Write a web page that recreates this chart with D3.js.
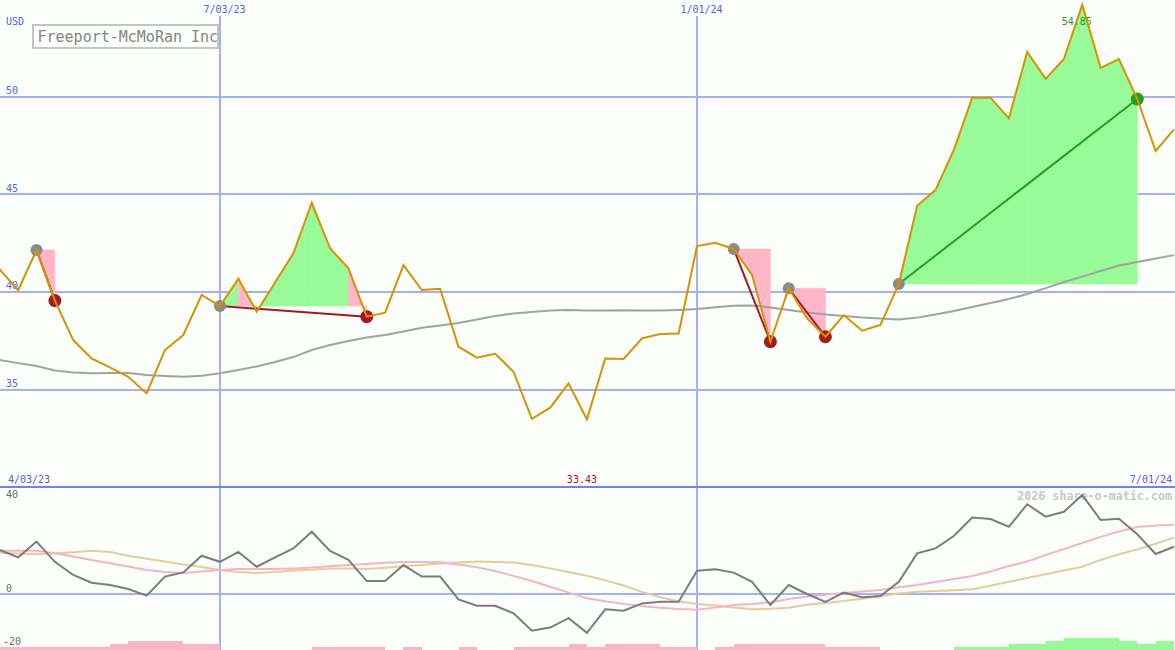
<!DOCTYPE html>
<html><head><meta charset="utf-8">
<script src="https://cdn.jsdelivr.net/npm/d3@7"></script>
<style>html,body{margin:0;padding:0;background:#fbfefb;overflow:hidden}svg{display:block}</style>
</head><body>
<svg id="c" width="1175" height="650"></svg>
<script>
// ---------- data ----------
const title = "Freeport-McMoRan Inc";
const currency = "USD";
const credit = "2026 share-o-matic.com";
const firstWeek = "2023-04-03", lastWeek = "2024-07-01";
const dateTicks = ["2023-07-03", "2024-01-01"];
const dateTickLabels = ["7/03/23", "1/01/24"];
const edgeLabels = ["4/03/23", "7/01/24"];
const priceTicks = [35, 40, 45, 50];
const oscTickLabels = [40, 0, -20];
const periodHigh = 54.85, periodLow = 33.43;

const closes = [40.9, 41.14, 40.09, 42.14, 39.55, 37.53, 36.59, 36.13, 35.65, 34.80,
  37.02, 37.79, 39.84, 39.27, 40.67, 38.98, 40.48, 41.97, 44.56, 42.23,
  41.20, 38.73, 38.93, 41.37, 40.09, 40.16, 37.19, 36.63, 36.83, 35.91,
  33.50, 34.07, 35.31, 33.47, 36.59, 36.56, 37.62, 37.84, 37.87, 42.34,
  42.51, 42.19, 40.86, 37.45, 40.18, 38.64, 37.70, 38.81, 38.01, 38.30,
  40.40, 44.41, 45.21, 47.26, 49.94, 49.94, 48.88, 52.29, 50.90, 51.92,
  54.70, 51.47, 51.92, 49.87, 47.21, 48.32];

const longMA = [36.61, 36.51, 36.35, 36.20, 35.97, 35.87, 35.83, 35.84, 35.84, 35.74,
  35.69, 35.65, 35.71, 35.83, 36.00, 36.18, 36.41, 36.66, 37.02, 37.28,
  37.48, 37.66, 37.79, 37.97, 38.16, 38.28, 38.40, 38.58, 38.76, 38.89,
  38.97, 39.04, 39.07, 39.05, 39.04, 39.06, 39.05, 39.04, 39.07, 39.12,
  39.21, 39.29, 39.30, 39.20, 39.07, 38.94, 38.84, 38.76, 38.68, 38.63,
  38.59, 38.68, 38.84, 39.02, 39.22, 39.43, 39.63, 39.89, 40.19, 40.50,
  40.78, 41.07, 41.35, 41.53, 41.71, 41.88];

const oscillator = [20.9, 18.7, 15.6, 22.3, 13.7, 8.1, 4.8, 3.8, 2.1, -0.7,
  7.4, 9.2, 16.3, 13.7, 17.9, 11.6, 15.6, 19.4, 26.5, 18.3,
  14.5, 5.5, 5.5, 12.3, 7.4, 7.4, -2.3, -5.0, -5.0, -8.2,
  -15.6, -14.3, -10.3, -16.5, -6.5, -7.1, -4.0, -3.3, -3.3, 9.9,
  10.5, 9.1, 5.2, -4.7, 3.8, 0.0, -3.4, 0.6, -1.4, -0.9,
  5.2, 17.3, 19.4, 24.7, 32.5, 31.9, 28.6, 38.2, 32.9, 35.0,
  42.1, 31.5, 32.0, 25.4, 17.0, 20.1];

const oscFast = [18.4, 18.4, 18.4, 18.4, 17.3, 16.0, 14.5, 13.1, 11.7, 10.2,
  9.4, 8.9, 9.6, 10.2, 10.6, 10.6, 10.6, 10.9, 11.3, 11.8,
  12.3, 12.8, 13.3, 13.6, 13.6, 13.5, 12.6, 11.4, 9.8, 7.7,
  5.5, 3.1, 0.6, -1.8, -3.1, -4.2, -5.1, -5.8, -6.4, -6.7,
  -5.8, -4.7, -4.3, -3.5, -2.1, -1.1, -0.3, 0.4, 1.1, 1.7,
  2.9, 3.8, 5.1, 6.4, 7.7, 9.6, 11.9, 13.8, 16.6, 19.1,
  21.7, 24.3, 26.6, 28.5, 29.1, 29.5];

const oscSlow = [17.9, 17.6, 17.2, 16.9, 17.3, 17.8, 18.4, 17.9, 16.3, 15.0,
  13.8, 12.6, 11.5, 10.2, 9.4, 8.9, 9.4, 10.0, 10.3, 10.9,
  10.8, 10.6, 11.2, 11.8, 12.3, 13.0, 13.4, 13.8, 13.6, 13.4,
  12.3, 10.9, 9.4, 7.8, 5.8, 3.6, 0.9, -1.4, -3.2, -4.3,
  -4.9, -5.7, -6.5, -6.3, -5.8, -4.6, -3.8, -3.0, -2.0, -1.0,
  0.2, 1.0, 1.3, 1.6, 2.0, 3.5, 5.2, 6.8, 8.4, 10.0,
  11.6, 14.5, 16.9, 19.0, 21.4, 24.0];

const histogram = [-1, -1, -1, -1, -1, -1, -1, -2, -3, -3,
  -3, -2, -2, 0, 0, 0, 0, 0, -1, -1,
  -1, -1, 0, -1, 0, 0, -1, 0, 0, -1,
  -1, -1, -2, -1, -2, -2, -2, -1, -1, 0,
  -1, -2, -2, -2, -2, -2, -1, -1, -1, 0,
  0, 0, 0, 1, 1, 1, 2, 2, 3, 4,
  4, 4, 3, 2, 3, 0];

const trades = [[3, 4], [13, 21], [41, 43], [44, 46], [50, 63]];

// ---------- drawing ----------
const W = 1175, H = 650;
const svg = d3.select("#c");
const mono = "'DejaVu Sans Mono', monospace";
const blueText = "#4f5ff0", gridCol = "#a4b2f2";

const dates = d3.utcMonday.range(new Date(firstWeek + "T00:00:00Z"), new Date(Date.parse(lastWeek + "T00:00:00Z") + 86400000));
const x = d3.scaleUtc().domain([dates[0], dates[dates.length - 1]]).range([-18.5, 1174]);
const y = d3.scaleLinear().domain([35, 50]).range([389.5, 96.5]);
const yo = d3.scaleLinear().domain([0, 40]).range([594, 500]);
const hs = d3.scaleLinear().domain([0, 4]).range([0, 11.7]);

svg.append("rect").attr("width", W).attr("height", H).attr("fill", "#fbfefb");

const defs = svg.append("defs");
defs.append("clipPath").attr("id", "top").append("rect").attr("x", 0).attr("y", 0).attr("width", W).attr("height", 486);
defs.append("clipPath").attr("id", "bot").append("rect").attr("x", 0).attr("y", 489).attr("width", W).attr("height", 161);

// horizontal gridlines (price)
svg.append("g").selectAll("line").data(priceTicks).join("line")
  .attr("x1", 0).attr("x2", W).attr("y1", d => Math.round(y(d))).attr("y2", d => Math.round(y(d)))
  .attr("stroke", gridCol).attr("stroke-width", 2).attr("shape-rendering", "crispEdges");
// oscillator zero line
svg.append("line").attr("x1", 0).attr("x2", W).attr("y1", yo(0)).attr("y2", yo(0))
  .attr("stroke", gridCol).attr("stroke-width", 2).attr("shape-rendering", "crispEdges");
// vertical date lines
svg.append("g").selectAll("line").data(dateTicks).join("line")
  .attr("x1", d => Math.round(x(new Date(d + "T00:00:00Z")))).attr("x2", d => Math.round(x(new Date(d + "T00:00:00Z"))))
  .attr("y1", 16).attr("y2", H)
  .attr("stroke", gridCol).attr("stroke-width", 2).attr("shape-rendering", "crispEdges");
// separator
svg.append("line").attr("x1", 0).attr("x2", W).attr("y1", 487).attr("y2", 487)
  .attr("stroke", "#7282ea").attr("stroke-width", 2.5).attr("shape-rendering", "crispEdges");

// price tick labels
svg.append("g").selectAll("text").data(priceTicks).join("text")
  .attr("x", 6).attr("y", d => y(d) - 2.5).text(d => d)
  .attr("font-family", mono).attr("font-size", 10).attr("fill", blueText);
svg.append("text").attr("x", 6).attr("y", 24.5).text(currency)
  .attr("font-family", mono).attr("font-size", 10).attr("fill", blueText);
// date tick labels
svg.append("g").selectAll("text").data(dateTicks).join("text")
  .attr("x", d => x(new Date(d + "T00:00:00Z")) + 4.5).attr("y", 12.5).attr("text-anchor", "middle")
  .text((d, i) => dateTickLabels[i])
  .attr("font-family", mono).attr("font-size", 10).attr("fill", blueText);
svg.append("text").attr("x", 8).attr("y", 482.5).text(edgeLabels[0])
  .attr("font-family", mono).attr("font-size", 10).attr("fill", blueText);
svg.append("text").attr("x", 1172).attr("y", 482.5).attr("text-anchor", "end").text(edgeLabels[1])
  .attr("font-family", mono).attr("font-size", 10).attr("fill", blueText);

// title box
svg.append("rect").attr("x", 33).attr("y", 25).attr("width", 185).attr("height", 23)
  .attr("fill", "none").attr("stroke", "#c4c4c4").attr("stroke-width", 2);
svg.append("text").attr("x", 37.5).attr("y", 41.5).text(title)
  .attr("font-family", mono).attr("font-size", 15).attr("fill", "#858585");

// trade fills
const gTop = svg.append("g").attr("clip-path", "url(#top)");
const area = d3.area().x(d => x(dates[d.i])).y1(d => y(d.v)).y0(d => y(d.base));
trades.forEach(([s, e]) => {
  const entry = closes[s];
  for (let k = s; k < e; k++) {
    const seg = [{ i: k, v: closes[k], base: entry }, { i: k + 1, v: closes[k + 1], base: entry }];
    gTop.append("path").attr("d", area(seg))
      .attr("fill", closes[k + 1] >= entry ? "#98fb98" : "#ffb6c8")
      .attr("stroke", closes[k + 1] >= entry ? "#98fb98" : "#ffb6c8").attr("stroke-width", 0.6);
  }
});

// extreme labels
const iMax = d3.maxIndex(closes), iMin = d3.minIndex(closes);
gTop.append("text").attr("x", x(dates[iMax]) - 5.5).attr("y", 25).attr("text-anchor", "middle")
  .text(periodHigh.toFixed(2)).attr("font-family", mono).attr("font-size", 10).attr("fill", "#22a022");
svg.append("text").attr("x", x(dates[iMin]) - 5).attr("y", 482.5).attr("text-anchor", "middle")
  .text(periodLow.toFixed(2)).attr("font-family", mono).attr("font-size", 10).attr("fill", "#a81c1c");

// long moving average
const line = d3.line().x((d, i) => x(dates[i])).y(d => y(d));
gTop.append("path").attr("d", line(longMA)).attr("fill", "none").attr("stroke", "#a2a2a2").attr("stroke-width", 2);

// trade lines & dots
trades.forEach(([s, e]) => {
  const win = closes[e] >= closes[s];
  gTop.append("line").attr("x1", x(dates[s])).attr("y1", y(closes[s])).attr("x2", x(dates[e])).attr("y2", y(closes[e]))
    .attr("stroke", win ? "#22a022" : "#a01c1c").attr("stroke-width", 2);
});
trades.forEach(([s, e]) => {
  const win = closes[e] >= closes[s];
  gTop.append("circle").attr("cx", x(dates[s])).attr("cy", y(closes[s])).attr("r", 6).attr("fill", "#8a8a8a");
  gTop.append("circle").attr("cx", x(dates[e])).attr("cy", y(closes[e])).attr("r", 6.5).attr("fill", win ? "#22a022" : "#a31c1c");
});

// price line
gTop.append("path").attr("d", line(closes)).attr("fill", "none").attr("stroke", "#d89200").attr("stroke-width", 2);

// ---------- lower panel ----------
const gBot = svg.append("g").attr("clip-path", "url(#bot)");
svg.append("g").selectAll("text").data(oscTickLabels).join("text")
  .attr("x", d => d < 0 ? 3 : 6).attr("y", d => d === -20 ? 645 : yo(d) - 2)
  .text(d => d).attr("font-family", mono).attr("font-size", 10).attr("fill", "#6a6a6a");

gBot.append("text").attr("x", 1172).attr("y", 500).attr("text-anchor", "end").text(credit)
  .attr("font-family", mono).attr("font-size", 11.7).attr("font-weight", "bold").attr("fill", "#c8c8c8");

// histogram
gBot.append("g").selectAll("rect").data(histogram).join("rect")
  .attr("x", (d, i) => x(dates[i]))
  .attr("width", (d, i) => (i < dates.length - 1 ? x(dates[i + 1]) : x(dates[i]) + 18.35) - x(dates[i]))
  .attr("y", d => H - hs(Math.abs(d))).attr("height", d => hs(Math.abs(d)))
  .attr("fill", d => d > 0 ? "#98f898" : "#f9b4c8").attr("shape-rendering", "crispEdges");

const oline = d3.line().x((d, i) => x(dates[i])).y(d => yo(d));
gBot.append("path").attr("d", oline(oscSlow)).attr("fill", "none").attr("stroke", "#e4cc9c").attr("stroke-width", 2);
gBot.append("path").attr("d", oline(oscFast)).attr("fill", "none").attr("stroke", "#f8b2c6").attr("stroke-width", 2);
gBot.append("path").attr("d", oline(oscillator)).attr("fill", "none").attr("stroke", "#7c7c7c").attr("stroke-width", 2);
</script>
</body></html>
